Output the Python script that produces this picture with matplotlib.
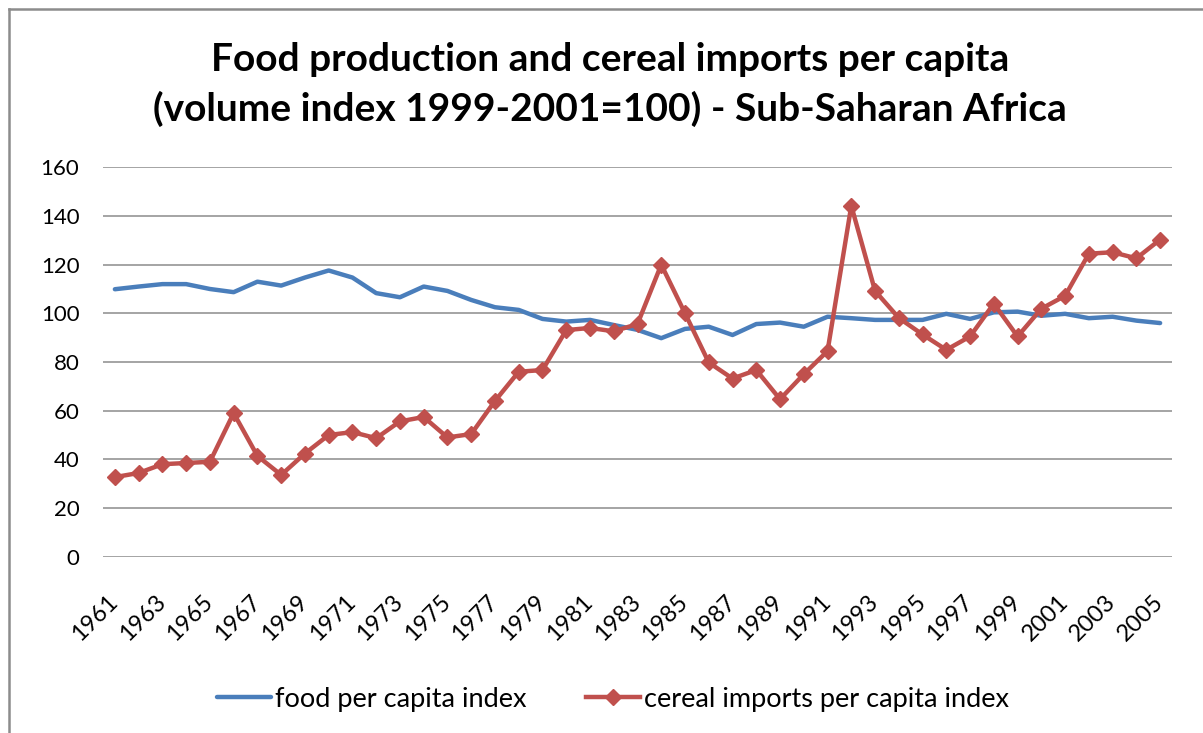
import matplotlib
matplotlib.use("Agg")
from matplotlib import pyplot as plt
from matplotlib.lines import Line2D
from matplotlib.transforms import ScaledTranslation

# categories (one point per year)
years = list(range(1961, 2006))
# only every second year gets a label
tick_years = [1961, 1963, 1965, 1967, 1969, 1971, 1973, 1975, 1977, 1979, 1981,
              1983, 1985, 1987, 1989, 1991, 1993, 1995, 1997, 1999, 2001, 2003, 2005]

# food per capita index (1999-2001=100)
food = [109.9, 111.0, 112.0, 112.0, 110.0, 108.7, 113.0, 111.4, 114.7, 117.6,
        114.7, 108.3, 106.6, 111.0, 109.2, 105.5, 102.5, 101.4, 97.7, 96.6,
        97.3, 95.2, 93.2, 89.8, 93.6, 94.5, 91.1, 95.6, 96.2, 94.5,
        98.6, 98.0, 97.3, 97.3, 97.3, 99.8, 97.7, 100.4, 100.7, 99.0,
        99.8, 98.0, 98.6, 97.0, 96.0]

# cereal imports per capita index (1999-2001=100)
cereal = [32.7, 34.4, 38.0, 38.5, 39.0, 59.0, 41.4, 33.6, 42.4, 50.0,
          51.2, 48.7, 55.6, 57.4, 49.0, 50.4, 64.0, 76.0, 76.7, 93.1,
          94.0, 92.6, 95.6, 120.0, 100.0, 79.8, 73.2, 76.7, 64.7, 75.0,
          84.5, 144.2, 109.2, 98.1, 91.3, 85.0, 90.5, 104.0, 90.5, 101.9,
          107.2, 124.5, 125.1, 122.6, 130.3]

labels = ['food per capita index', 'cereal imports per capita index']

plt.rcParams['font.family'] = ['Lato', 'DejaVu Sans']

fig = plt.figure(figsize=(12.03, 7.33), dpi=100)
ax = fig.add_axes([103 / 1203, 1 - 556.7 / 733, (1172 - 103) / 1203, (556.7 - 167.3) / 733])

x = list(range(len(years)))
ax.plot(x, food, color='#4a7ebb', lw=3.2, label=labels[0], solid_capstyle='round')
ax.plot(x, cereal, color='#c0504d', lw=3.2, marker='D', markersize=8,
        label=labels[1], solid_joinstyle='round')

ax.set_xlim(-0.5, len(years) - 0.5)
ax.set_ylim(0, 160)
ax.set_yticks(range(0, 161, 20))
ax.grid(axis='y', color='#8c8c8c', lw=1.1)
ax.set_axisbelow(True)
for s in ax.spines.values():
    s.set_visible(False)

tick_pos = [years.index(y) for y in tick_years]
ax.set_xticks(tick_pos)
ax.set_xticklabels([str(y) for y in tick_years], rotation=45, ha='right')
ax.tick_params(axis='x', length=0, pad=25, labelsize=17)
ax.tick_params(axis='y', length=0, pad=17, labelsize=16)
shift = ScaledTranslation(7 / 100, 0, fig.dpi_scale_trans)
for lab in ax.get_xticklabels():
    lab.set_transform(lab.get_transform() + shift)

# title, two lines
fig.text(610 / 1203, 1 - 71 / 733, 'Food production and cereal imports per capita',
         ha='center', va='baseline', fontsize=28, fontweight='bold')
fig.text(610 / 1203, 1 - 121 / 733, '(volume index 1999-2001=100) - Sub-Saharan Africa',
         ha='center', va='baseline', fontsize=28, fontweight='bold')

fig.legend(loc='center', bbox_to_anchor=(613 / 1203, 1 - 699 / 733), ncol=2,
           frameon=False, fontsize=19.5, handlelength=2.0, handletextpad=0.15,
           columnspacing=2.2)

# chart border (left and top visible, rest cut off)
fig.add_artist(Line2D([9 / 1203, 9 / 1203], [0, 1 - 9 / 733], transform=fig.transFigure,
                      color='#8c8c8c', lw=1.8))
fig.add_artist(Line2D([9 / 1203, 1], [1 - 9 / 733, 1 - 9 / 733], transform=fig.transFigure,
                      color='#8c8c8c', lw=1.8))

fig.savefig('out.png', dpi=100)
